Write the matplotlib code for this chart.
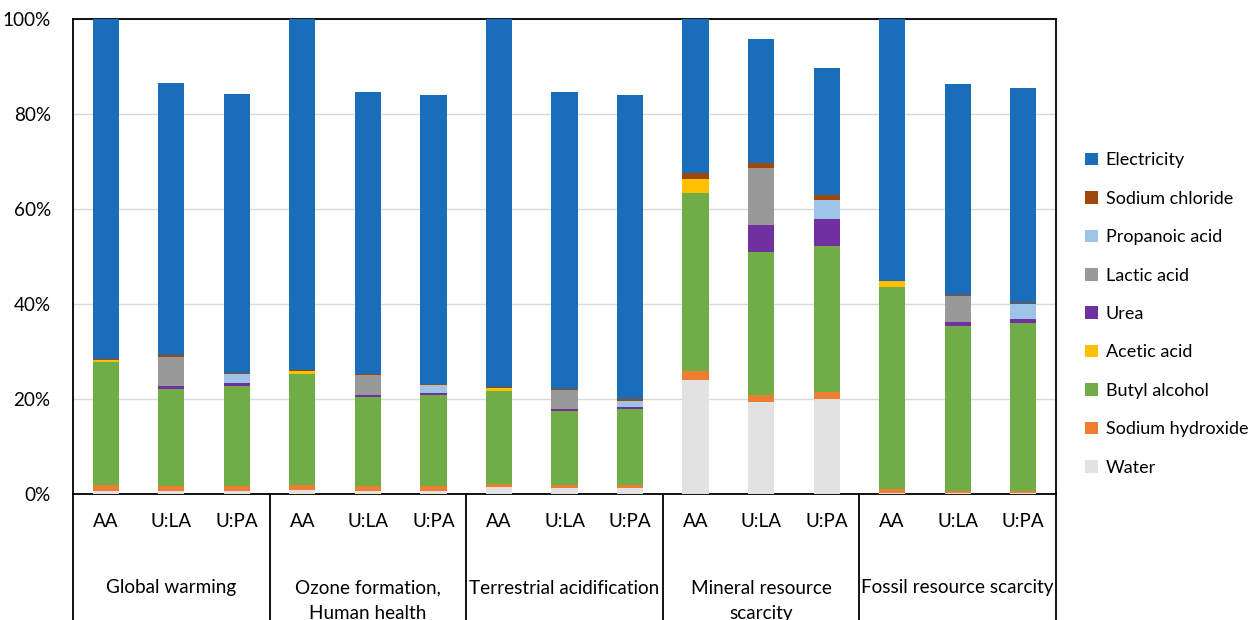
import numpy as np
import matplotlib
matplotlib.use("Agg")
import matplotlib.pyplot as plt
import matplotlib.transforms as mtransforms
from matplotlib.patches import Patch

plt.rcParams['font.family'] = ['Lato', 'DejaVu Sans']

# impact categories and scenarios
categories = ["Global warming", "Ozone formation,\nHuman health", "Terrestrial acidification",
              "Mineral resource\nscarcity", "Fossil resource scarcity"]
scenarios = ["AA", "U:LA", "U:PA"]

# contribution (%) of each input, per bar (5 categories x 3 scenarios), bottom to top
water = [0.7, 0.6, 0.6, 0.8, 0.6, 0.6, 1.5, 1.2, 1.2, 24.1, 19.4, 19.9, 0.3, 0.2, 0.2]
sodium_hydroxide = [1.1, 1.0, 1.0, 1.1, 1.0, 1.0, 0.7, 0.6, 0.6, 1.8, 1.4, 1.5, 0.7, 0.5, 0.5]
butyl_alcohol = [25.9, 20.5, 21.1, 23.3, 18.8, 19.2, 19.5, 15.7, 16.1, 37.4, 30.2, 30.8, 42.6, 34.7, 35.3]
acetic_acid = [0.6, 0, 0, 0.7, 0, 0, 0.7, 0, 0, 3.0, 0, 0, 1.2, 0, 0]
urea = [0, 0.7, 0.6, 0, 0.4, 0.5, 0, 0.4, 0.4, 0, 5.6, 5.8, 0, 0.8, 0.8]
lactic_acid = [0, 6.1, 0, 0, 4.3, 0, 0, 4.1, 0, 0, 12.1, 0, 0, 5.5, 0]
propanoic_acid = [0, 0, 1.9, 0, 0, 1.7, 0, 0, 1.3, 0, 0, 4.0, 0, 0, 3.2]
sodium_chloride = [0.2, 0.3, 0.2, 0.2, 0.2, 0.2, 0.2, 0.2, 0.3, 1.2, 0.9, 0.9, 0.1, 0.2, 0.2]
electricity = [71.5, 57.4, 58.9, 73.9, 59.3, 60.8, 77.4, 62.4, 64.0, 32.5, 26.1, 26.8, 55.1, 44.4, 45.3]

series = [
    ("Water", water, "#E2E2E2"),
    ("Sodium hydroxide", sodium_hydroxide, "#ED7D31"),
    ("Butyl alcohol", butyl_alcohol, "#70AD47"),
    ("Acetic acid", acetic_acid, "#FFC000"),
    ("Urea", urea, "#7030A0"),
    ("Lactic acid", lactic_acid, "#999999"),
    ("Propanoic acid", propanoic_acid, "#9DC3E6"),
    ("Sodium chloride", sodium_chloride, "#9E480E"),
    ("Electricity", electricity, "#1A6DB9"),
]

fs = 13.6
fig = plt.figure(figsize=(12.56, 6.2), dpi=100)
ax = fig.add_axes([73 / 1256, 1 - 494 / 620, 983 / 1256, 475 / 620])

n = len(categories) * len(scenarios)
x = np.arange(n)
bottom = np.zeros(n)
for name, vals, col in series:
    vals = np.array(vals, dtype=float)
    ax.bar(x, vals, bottom=bottom, width=0.4, color=col, label=name, zorder=3)
    bottom += vals

ax.set_xlim(-0.5, n - 0.5)
ax.set_ylim(0, 100)
ax.set_yticks([0, 20, 40, 60, 80, 100])
ax.set_yticklabels([f"{v}%" for v in range(0, 101, 20)], fontsize=fs)
ax.yaxis.grid(True, color="#D9D9D9", lw=1, zorder=0)
ax.tick_params(axis="y", length=0, pad=16)
ax.set_xticks([])
for s in ax.spines.values():
    s.set_color("black")
    s.set_linewidth(1.3)

# category table below the axis
trans = mtransforms.blended_transform_factory(ax.transData, ax.transAxes)
for i in range(n):
    ax.text(x[i], -0.057, scenarios[i % 3], transform=trans, ha="center", va="center",
            fontsize=fs, clip_on=False)
for g, cat in enumerate(categories):
    ax.text(g * 3 + 1, -0.18, cat, transform=trans, ha="center", va="top",
            fontsize=fs, linespacing=1.6, clip_on=False)
for b in np.arange(-0.5, n, 3):
    ax.plot([b, b], [0, -0.27], transform=trans, color="black", lw=1.3, clip_on=False)

handles = [Patch(facecolor=col, label=name) for name, _, col in series[::-1]]
fig.legend(handles=handles, loc="center left", bbox_to_anchor=(1085 / 1256, 1 - 314 / 620),
           frameon=False, fontsize=13, handlelength=0.7, handleheight=0.7,
           handletextpad=0.45, labelspacing=1.24, borderaxespad=0, borderpad=0)

fig.savefig("out.png", dpi=100)
